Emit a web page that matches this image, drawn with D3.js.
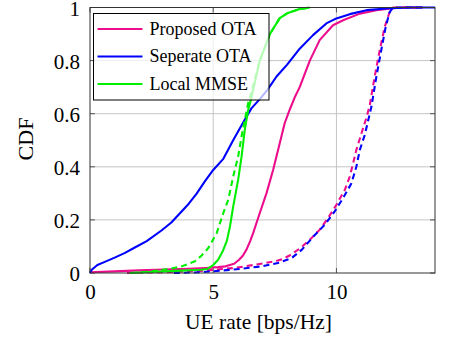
<!DOCTYPE html>
<html>
<head>
<meta charset="utf-8">
<script src="https://cdn.jsdelivr.net/npm/d3@7"></script>
<style>
  html, body { margin: 0; padding: 0; background: #fff; }
  svg { display: block; }
</style>
</head>
<body>
<div id="chart"></div>
<script>
// ---- data ----
const xTicks = [0, 5, 10];
const yTicks = [0, 0.2, 0.4, 0.6, 0.8, 1];
const yTickLabels = ["0", "0.2", "0.4", "0.6", "0.8", "1"];
const seriesNames = ["Proposed OTA", "Seperate OTA", "Local MMSE"];

const proposedSolid = [[0,0.003],[1,0.006],[2,0.01],[3,0.013],[4,0.016],[4.7,0.019],[5.2,0.022],[5.5,0.025],[5.85,0.035],[6.05,0.05],[6.2,0.065],[6.35,0.088],[6.5,0.12],[6.62,0.15],[6.89,0.226],[7.16,0.30],[7.43,0.388],[7.7,0.489],[7.9,0.564],[8.1,0.614],[8.3,0.66],[8.51,0.70],[8.92,0.80],[9.32,0.877],[9.86,0.933],[10.27,0.952],[10.95,0.977],[11.62,0.99],[12.3,0.997],[12.7,1],[13.5,1]];
const proposedDashed = [[1.5,0],[3,0.003],[4.5,0.008],[5.07,0.0125],[5.88,0.019],[6.69,0.031],[7.5,0.044],[7.8,0.052],[8.1,0.066],[8.51,0.092],[8.92,0.125],[9.32,0.163],[9.66,0.207],[10.0,0.257],[10.34,0.313],[10.54,0.363],[10.68,0.414],[10.81,0.464],[11.03,0.53],[11.2,0.58],[11.35,0.63],[11.55,0.739],[11.76,0.84],[11.96,0.927],[12.16,0.983],[12.3,1],[13.5,1]];
const separateSolid = [[0,0],[0.07,0.012],[0.3,0.03],[0.6,0.042],[1.0,0.058],[1.4,0.075],[1.8,0.095],[2.3,0.12],[2.9,0.16],[3.3,0.19],[3.65,0.225],[4.0,0.26],[4.32,0.298],[4.66,0.345],[5.0,0.388],[5.41,0.43],[5.81,0.5],[6.22,0.568],[6.55,0.62],[6.89,0.655],[7.2,0.69],[7.57,0.74],[8.0,0.785],[8.51,0.845],[9.05,0.896],[9.59,0.94],[10.0,0.959],[10.54,0.975],[11.22,0.99],[12.16,0.997],[13,1],[14,1]];
const separateDashed = [[3.4,0],[4.53,0.003],[5.34,0.009],[6.15,0.016],[6.96,0.025],[7.63,0.038],[8.18,0.056],[8.6,0.088],[9.05,0.136],[9.53,0.182],[9.93,0.232],[10.27,0.282],[10.61,0.338],[10.81,0.401],[10.95,0.464],[11.15,0.52],[11.42,0.626],[11.62,0.739],[11.82,0.84],[12.0,0.927],[12.16,0.983],[12.3,1],[13.5,1]];
const localSolid = [[1.6,0],[2.5,0.004],[3.5,0.008],[4.5,0.012],[4.75,0.015],[5.0,0.03],[5.2,0.05],[5.4,0.085],[5.55,0.12],[5.68,0.175],[5.81,0.25],[6.01,0.35],[6.15,0.438],[6.28,0.539],[6.42,0.614],[6.55,0.66],[6.62,0.69],[6.89,0.80],[7.3,0.9],[7.7,0.96],[8.0,0.978],[8.5,0.994],[8.92,1]];
const localDashed = [[1.69,0],[2.5,0.006],[3.18,0.015],[3.72,0.025],[4.26,0.044],[4.53,0.066],[4.8,0.094],[5.14,0.15],[5.41,0.226],[5.61,0.276],[5.81,0.363],[6.01,0.438],[6.15,0.514],[6.28,0.576],[6.42,0.64],[6.55,0.68],[6.89,0.80],[7.3,0.9],[7.7,0.96],[8.0,0.978],[8.5,0.994],[8.92,1]];

const colors = ["#ec0c8c", "#0000ff", "#00ee00"];
const FONT = "'Liberation Serif', Tinos, 'Times New Roman', Times, 'Nimbus Roman', 'Nimbus Roman No9 L', FreeSerif, 'Noto Serif', 'DejaVu Serif', 'Droid Serif', Georgia, serif";

// ---- layout ----
const W = 450, H = 339;
const m = { left: 90, right: 15, top: 7.5, bottom: 66 };
const iw = W - m.left - m.right, ih = H - m.top - m.bottom;

const svg = d3.select("#chart").append("svg").attr("width", W).attr("height", H)
  .style("font-family", FONT);
const g = svg.append("g").attr("transform", `translate(${m.left},${m.top})`);

const x = d3.scaleLinear().domain([0, 14]).range([0, iw]);
const y = d3.scaleLinear().domain([0, 1]).range([ih, 0]);

const defs = svg.append("defs");
defs.append("clipPath").attr("id", "clip").append("rect")
  .attr("x", -1).attr("y", -1.5).attr("width", iw + 2).attr("height", ih + 3);

// grid
g.append("g").selectAll("line").data(xTicks.filter(d => d > 0)).join("line")
  .attr("x1", d => x(d)).attr("x2", d => x(d)).attr("y1", 0).attr("y2", ih)
  .attr("stroke", "#c4c4c4").attr("stroke-width", 1);
g.append("g").selectAll("line").data(yTicks.filter(d => d > 0 && d < 1)).join("line")
  .attr("y1", d => y(d)).attr("y2", d => y(d)).attr("x1", 0).attr("x2", iw)
  .attr("stroke", "#c4c4c4").attr("stroke-width", 1);

// axes with d3 (labels)
const xAxis = d3.axisBottom(x).tickValues(xTicks).tickSize(0).tickPadding(10).tickFormat(d3.format("d"));
const gx = g.append("g").attr("transform", `translate(0,${ih})`).call(xAxis);
gx.attr("font-family", null).attr("font-size", null);
gx.select(".domain").remove();
gx.selectAll("text").style("font-family", FONT).style("font-size", "21px").attr("fill", "#000").attr("dy", "0.75em");

const yAxis = d3.axisLeft(y).tickValues(yTicks).tickSize(0).tickPadding(10).tickFormat((d, i) => yTickLabels[i]);
const gy = g.append("g").call(yAxis);
gy.attr("font-family", null).attr("font-size", null);
gy.select(".domain").remove();
gy.selectAll("text").style("font-family", FONT).style("font-size", "21px").attr("fill", "#000").attr("dy", "0.38em");

// small inward tick marks on all four sides
const tk = 5, tcol = "#555";
g.append("g").selectAll("line").data(xTicks).join("line")
  .attr("x1", d => x(d)).attr("x2", d => x(d)).attr("y1", ih).attr("y2", ih - tk).attr("stroke", tcol);
g.append("g").selectAll("line").data(xTicks).join("line")
  .attr("x1", d => x(d)).attr("x2", d => x(d)).attr("y1", 0).attr("y2", tk).attr("stroke", tcol);
g.append("g").selectAll("line").data(yTicks).join("line")
  .attr("y1", d => y(d)).attr("y2", d => y(d)).attr("x1", 0).attr("x2", tk).attr("stroke", tcol);
g.append("g").selectAll("line").data(yTicks).join("line")
  .attr("y1", d => y(d)).attr("y2", d => y(d)).attr("x1", iw).attr("x2", iw - tk).attr("stroke", tcol);

// lines
const line = d3.line().x(d => x(d[0])).y(d => y(d[1]));
const curves = [
  { data: proposedSolid, c: 0, dash: null },
  { data: proposedDashed, c: 0, dash: "6,4" },
  { data: separateSolid, c: 1, dash: null },
  { data: separateDashed, c: 1, dash: "6,4" },
  { data: localSolid, c: 2, dash: null },
  { data: localDashed, c: 2, dash: "6,4" }
];
const lg = g.append("g").attr("clip-path", "url(#clip)");
curves.forEach(cv => {
  lg.append("path").datum(cv.data).attr("d", line)
    .attr("fill", "none").attr("stroke", colors[cv.c]).attr("stroke-width", 2.1)
    .attr("stroke-linejoin", "round")
    .attr("stroke-dasharray", cv.dash);
});

// frame
g.append("rect").attr("x", 0).attr("y", 0).attr("width", iw).attr("height", ih)
  .attr("fill", "none").attr("stroke", "#333").attr("stroke-width", 1);

// legend
const leg = svg.append("g").attr("transform", "translate(93.5,13.5)");
leg.append("rect").attr("width", 175.5).attr("height", 86.5)
  .attr("fill", "#fff").attr("fill-opacity", 0.72).attr("stroke", "#000").attr("stroke-width", 1);
seriesNames.forEach((name, i) => {
  const yy = 15.5 + i * 27.5;
  leg.append("line").attr("x1", 4).attr("x2", 49).attr("y1", yy).attr("y2", yy)
    .attr("stroke", colors[i]).attr("stroke-width", 2.1);
  leg.append("text").attr("x", 56).attr("y", yy).attr("dy", "0.33em")
    .style("font-family", FONT).style("font-size", "18px").attr("fill", "#000").text(name);
});

// axis titles
svg.append("text").attr("x", m.left + iw / 2 - 4).attr("y", 329)
  .attr("text-anchor", "middle").style("font-family", FONT).style("font-size", "21.5px")
  .attr("fill", "#000").text("UE rate [bps/Hz]");
svg.append("text").attr("transform", "translate(33,139) rotate(-90)")
  .attr("text-anchor", "middle").style("font-family", FONT).style("font-size", "22px")
  .attr("fill", "#000").text("CDF");
</script>
</body>
</html>
